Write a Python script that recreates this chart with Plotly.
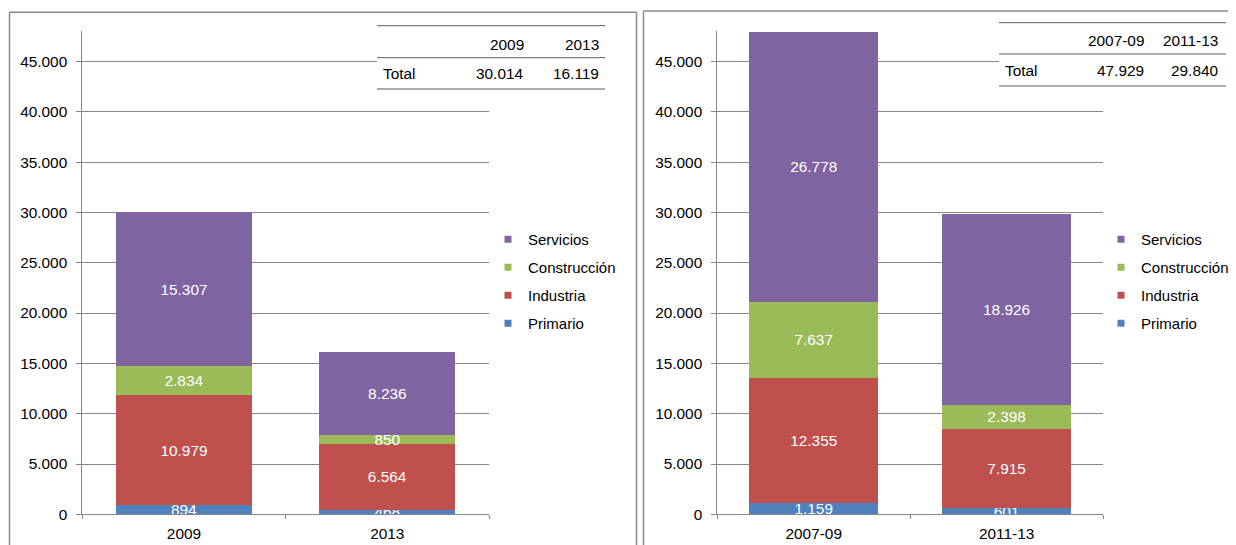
import plotly.graph_objects as go

# The page body has an 8px margin, so the figure starts at (8, 8) in the window.
OFF = 8
FW, FH = 1236 - OFF, 545 - OFF


def px(x):
    return (x - OFF) / FW


def py(y):
    return 1 - (y - OFF) / FH


# ---------------- data ----------------
series = ["Primario", "Industria", "Construcción", "Servicios"]
colors = ["#4F81BD", "#C0504D", "#9BBB59", "#8064A2"]

cats_left = ["2009", "2013"]
primario_left = [894, 468]
industria_left = [10979, 6564]
construccion_left = [2834, 850]
servicios_left = [15307, 8236]
totals_left = [30014, 16119]

cats_right = ["2007-09", "2011-13"]
primario_right = [1159, 601]
industria_right = [12355, 7915]
construccion_right = [7637, 2398]
servicios_right = [26778, 18926]
totals_right = [47929, 29840]

y_ticks = [0, 5000, 10000, 15000, 20000, 25000, 30000, 35000, 40000, 45000]
y_max = 48000

FONT = "Liberation Sans, Arial, sans-serif"
FS = 15.4
FS_LEG = 15
GRAY = "#868686"

fig = go.Figure()

panels = [
    ("L", "x", "y", "legend", cats_left,
     [primario_left, industria_left, construccion_left, servicios_left]),
    ("R", "x2", "y2", "legend2", cats_right,
     [primario_right, industria_right, construccion_right, servicios_right]),
]

for tag, xa, ya, lg, cats, vals in panels:
    for i, (name, col, v) in enumerate(zip(series, colors, vals)):
        fig.add_trace(go.Bar(
            x=cats, y=v, name=name, xaxis=xa, yaxis=ya,
            marker=dict(color=col, line=dict(width=0)),
            texttemplate="%{y:,.0f}", textposition="inside",
            insidetextanchor="middle", textangle=0, constraintext="none",
            textfont=dict(color="white", size=FS, family=FONT),
            legendgroup=tag + name, showlegend=False, hoverinfo="x+y+name",
        ))
        fig.add_trace(go.Scatter(
            x=[None], y=[None], mode="markers", name=name, xaxis=xa, yaxis=ya,
            marker=dict(symbol="square", size=7, color=col),
            legendgroup=tag + name, legend=lg, showlegend=True,
            legendrank=len(series) - i,
        ))

axis_common_y = dict(
    range=[0, y_max], tickvals=y_ticks, tickformat=",.0f",
    showgrid=True, gridcolor=GRAY, gridwidth=1,
    showline=True, linecolor=GRAY, linewidth=1,
    ticks="outside", ticklen=5, tickcolor=GRAY,
    zeroline=False, ticklabelstandoff=6, automargin=False,
    tickfont=dict(family=FONT, size=FS, color="#000"),
)
axis_common_x = dict(
    type="category", showgrid=False, showline=True, linecolor=GRAY,
    linewidth=1, ticks="outside", ticklen=4, tickcolor=GRAY,
    tickson="boundaries", zeroline=False, automargin=False,
    ticklabelstandoff=5,
    tickfont=dict(family=FONT, size=FS, color="#000"),
)

y_dom = [py(514.3), py(31.4)]

legend_common = dict(
    xanchor="left", yanchor="top", traceorder="grouped", tracegroupgap=5.5,
    bgcolor="rgba(0,0,0,0)", font=dict(family=FONT, size=FS_LEG, color="#000"),
)

fig.update_layout(
    width=FW, height=FH, margin=dict(l=0, r=0, t=0, b=0, autoexpand=False),
    paper_bgcolor="white", plot_bgcolor="white",
    separators=",.",
    barmode="stack", bargap=0.33,
    font=dict(family=FONT, size=FS, color="#000"),
    xaxis=dict(domain=[px(82.3), px(489)], anchor="y", **axis_common_x),
    yaxis=dict(domain=y_dom, anchor="x", **axis_common_y),
    xaxis2=dict(domain=[px(717.3), px(1103)], anchor="y2", **axis_common_x),
    yaxis2=dict(domain=y_dom, anchor="x2", **axis_common_y),
    legend=dict(x=px(488), y=py(223), **legend_common),
    legend2=dict(x=px(1101), y=py(223), **legend_common),
    showlegend=True,
)

shapes = []
annotations = []


def line(x0, y0, x1, y1, color, width):
    shapes.append(dict(type="line", xref="paper", yref="paper",
                       x0=px(x0), y0=py(y0), x1=px(x1), y1=py(y1),
                       line=dict(color=color, width=width), layer="above"))


# panel borders
for (lx, rx, ty) in [(9.5, 636.5, 12.3), (643.5, 1250, 11)]:
    line(lx, 560, lx, ty, "#8a8a8a", 1.5)
    line(lx, ty, rx, ty, "#8a8a8a", 1.5)
    if rx < 1236:
        line(rx, ty, rx, 560, "#8a8a8a", 1.5)


def fmt(v):
    return f"{v:,}".replace(",", ".")


# summary tables
tables = [
    (377, 605, 25.7, 57.7, 89, 44.5, 74, 381, [526, 601], cats_left, totals_left),
    (999, 1226, 22.7, 54, 86, 40.5, 70.5, 1002.5, [1146, 1220], cats_right, totals_right),
]
for (x0, x1, yt, ym, yb, yh, yr, xtot, colx, cats, tots) in tables:
    shapes.append(dict(type="rect", xref="paper", yref="paper",
                       x0=px(x0), x1=px(x1), y0=py(yb), y1=py(yt),
                       fillcolor="white", line=dict(width=0), layer="above"))
    line(x0, yt, x1, yt, "#595959", 1)
    line(x0, ym, x1, ym, "#595959", 1)
    line(x0, yb, x1, yb, "#595959", 1)
    annotations.append(dict(xref="paper", yref="paper", x=px(xtot), y=py(yr),
                            xanchor="left", yanchor="middle", text="Total",
                            showarrow=False, font=dict(family=FONT, size=FS, color="#000")))
    for cx, c, t in zip(colx, cats, tots):
        annotations.append(dict(xref="paper", yref="paper", x=px(cx), y=py(yh),
                                xanchor="right", yanchor="middle", text=c,
                                showarrow=False, font=dict(family=FONT, size=FS, color="#000")))
        annotations.append(dict(xref="paper", yref="paper", x=px(cx), y=py(yr),
                                xanchor="right", yanchor="middle", text=fmt(t),
                                showarrow=False, font=dict(family=FONT, size=FS, color="#000")))

fig.update_layout(shapes=shapes, annotations=annotations)

fig.write_html("out.html")
